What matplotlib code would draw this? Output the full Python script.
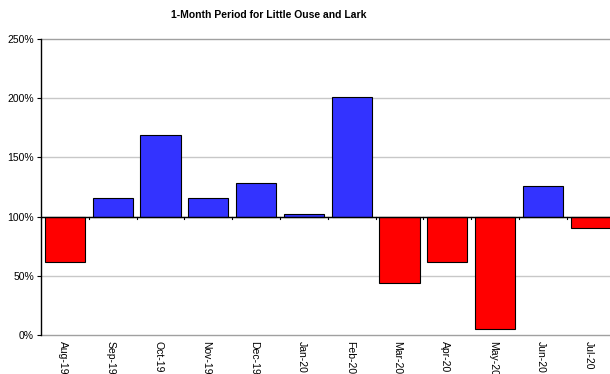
import matplotlib
matplotlib.use("Agg")
import matplotlib.pyplot as plt
import matplotlib.transforms as mtransforms
import numpy as np

plt.rcParams['font.family'] = ['Liberation Sans', 'DejaVu Sans']

months = ["Aug-19", "Sep-19", "Oct-19", "Nov-19", "Dec-19", "Jan-20",
          "Feb-20", "Mar-20", "Apr-20", "May-20", "Jun-20", "Jul-20"]
percent = [62, 116, 169, 116, 128, 102, 201, 44, 62, 5, 126, 90]
y_ticks = [0, 50, 100, 150, 200, 250]

BLUE = "#3333FF"
RED = "#FF0000"

fig = plt.figure(figsize=(6.10, 3.74), dpi=100)
ax = fig.add_axes([41 / 610, 39 / 374, 573.6 / 610, 296 / 374])

x = np.arange(len(months))
base = 100
heights = [v - base for v in percent]
colors = [BLUE if v >= base else RED for v in percent]

for yt in y_ticks:
    col = "#A0A0A0" if yt in (0, 250) else "#C8C8C8"
    ax.axhline(yt, color=col, lw=1.0, zorder=0, clip_on=False)

ax.bar(x, heights, bottom=base, width=0.84, color=colors,
       edgecolor="black", linewidth=0.8, zorder=2)

# category axis crosses the value axis at 100%
ax.axhline(base, color="black", lw=1.0, zorder=3)
for b in np.arange(len(months) + 1) - 0.5:
    ax.plot([b, b], [base, base - 2.2], color="black", lw=0.8, zorder=3,
            clip_on=False)

ax.set_xlim(-0.5, len(months) - 0.5)
ax.set_ylim(0, 250)
ax.set_yticks(y_ticks)
ax.set_yticklabels([f"{t}%" for t in y_ticks], fontsize=7.5)
ax.tick_params(axis="y", length=3, width=0.8, pad=2)
ax.set_xticks([])

for s in ("top", "right", "bottom"):
    ax.spines[s].set_visible(False)
ax.spines["left"].set_color("black")
ax.spines["left"].set_linewidth(1.0)
ax.spines["left"].set_zorder(4)

shift = mtransforms.ScaledTranslation(-2 / 100, 0, fig.dpi_scale_trans)
for xi, lab in zip(x, months):
    ax.text(xi, -5, lab, rotation=270, ha="center", va="top", fontsize=7.5,
            clip_on=False, transform=ax.transData + shift)

fig.text(269 / 610, 1 - 15 / 374, "1-Month Period for Little Ouse and Lark",
         ha="center", va="center", fontsize=7.5, fontweight="bold")

fig.savefig("out.png", dpi=100)
